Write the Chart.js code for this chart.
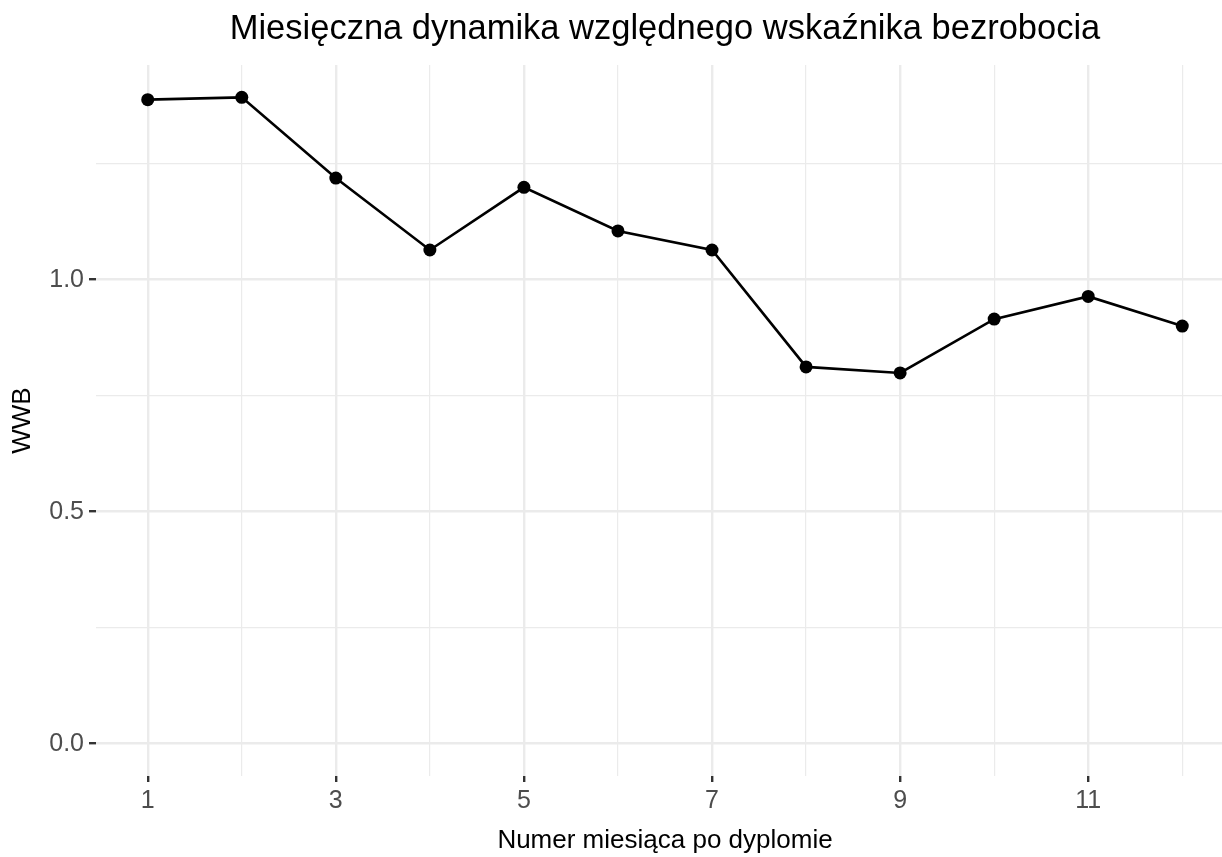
<!DOCTYPE html>
<html>
<head>
<meta charset="utf-8">
<script src="https://cdn.jsdelivr.net/npm/chart.js@4"></script>
<style>
  html, body { margin: 0; padding: 0; overflow: hidden; background: #ffffff; }
  #wrap { width: 1222px; height: 857px; overflow: hidden; }
</style>
</head>
<body>
<div id="wrap"><canvas id="wwbChart" width="1234" height="857"></canvas></div>
<script>
  // data
  var months = [1, 2, 3, 4, 5, 6, 7, 8, 9, 10, 11, 12];
  var wwbValues = [1.388, 1.393, 1.219, 1.064, 1.199, 1.105, 1.064, 0.812, 0.799, 0.915, 0.964, 0.900];

  var xMajorBreaks = [1, 3, 5, 7, 9, 11];
  var xMinorBreaks = [2, 4, 6, 8, 10, 12];
  var xTickLabels = ['1', '3', '5', '7', '9', '11'];

  var yMajorBreaks = [0, 0.5, 1.0];
  var yMinorBreaks = [0.25, 0.75, 1.25];
  var yTickLabels = ['0.0', '0.5', '1.0'];

  var FONT = "'Liberation Sans', Arial, Helvetica, sans-serif";
  var GRID = '#EBEBEB';

  function allBreaks(major, minor) {
      return major.concat(minor).sort(function(a, b) { return a - b; });
  }

  function isMajor(breaks, ctx) {
      return ctx.tick && breaks.indexOf(ctx.tick.value) !== -1;
  }

  var points = months.map(function(m, i) {
      return { x: m, y: wwbValues[i] };
  });

  var canvas = document.getElementById('wwbChart').getContext('2d');
  var wwbChart = new Chart(canvas, {
      type: 'line',
      data: {
          datasets: [
              {
                  data: points,
                  borderColor: '#000000',
                  backgroundColor: '#000000',
                  borderWidth: 2.6,
                  pointRadius: 6.5,
                  pointHoverRadius: 6.5,
                  pointBorderWidth: 0,
                  tension: 0,
                  fill: false
              }
          ]
      },
      options: {
          responsive: false,
          devicePixelRatio: 1,
          animation: false,
          layout: { padding: 0, autoPadding: false },
          plugins: {
              legend: { display: false },
              tooltip: { enabled: false },
              title: {
                  display: true,
                  fullSize: false,
                  text: 'Miesięczna dynamika względnego wskaźnika bezrobocia',
                  color: '#000000',
                  font: { family: FONT, size: 34.5, weight: 'normal' },
                  padding: { top: 9, bottom: 14.6 }
              }
          },
          scales: {
              x: {
                  type: 'linear',
                  min: 0.45,
                  max: 12.55,
                  afterBuildTicks: function(scale) {
                      scale.ticks = allBreaks(xMajorBreaks, xMinorBreaks).map(function(v) { return { value: v }; });
                  },
                  afterFit: function(scale) {
                      scale.height = 81;
                      scale.paddingLeft = 0;
                      scale.paddingRight = 0;
                  },
                  border: { display: false },
                  grid: {
                      color: GRID,
                      lineWidth: function(ctx) { return isMajor(xMajorBreaks, ctx) ? 2.4 : 1.2; },
                      tickColor: function(ctx) { return isMajor(xMajorBreaks, ctx) ? '#333333' : 'rgba(0,0,0,0)'; },
                      tickWidth: 2.4,
                      tickLength: 6
                  },
                  ticks: {
                      autoSkip: false,
                      maxRotation: 0,
                      padding: 4,
                      color: '#4D4D4D',
                      font: { family: FONT, size: 25 },
                      callback: function(value) {
                          var i = xMajorBreaks.indexOf(value);
                          return i === -1 ? '' : xTickLabels[i];
                      }
                  },
                  title: {
                      display: true,
                      text: 'Numer miesiąca po dyplomie',
                      color: '#000000',
                      font: { family: FONT, size: 26 },
                      padding: { top: 0, bottom: 1 }
                  }
              },
              y: {
                  type: 'linear',
                  min: -0.0697,
                  max: 1.4627,
                  afterBuildTicks: function(scale) {
                      scale.ticks = allBreaks(yMajorBreaks, yMinorBreaks).map(function(v) { return { value: v }; });
                  },
                  afterFit: function(scale) { scale.width = 96; },
                  border: { display: false },
                  grid: {
                      color: GRID,
                      lineWidth: function(ctx) { return isMajor(yMajorBreaks, ctx) ? 2.4 : 1.2; },
                      tickColor: function(ctx) { return isMajor(yMajorBreaks, ctx) ? '#333333' : 'rgba(0,0,0,0)'; },
                      tickWidth: 2.4,
                      tickLength: 7
                  },
                  ticks: {
                      padding: 5,
                      color: '#4D4D4D',
                      font: { family: FONT, size: 25 },
                      callback: function(value) {
                          var i = yMajorBreaks.indexOf(value);
                          return i === -1 ? '' : yTickLabels[i];
                      }
                  },
                  title: {
                      display: true,
                      text: 'WWB',
                      color: '#000000',
                      font: { family: FONT, size: 26 },
                      padding: { top: 7, bottom: 0 }
                  }
              }
          }
      }
  });
</script>
</body>
</html>
